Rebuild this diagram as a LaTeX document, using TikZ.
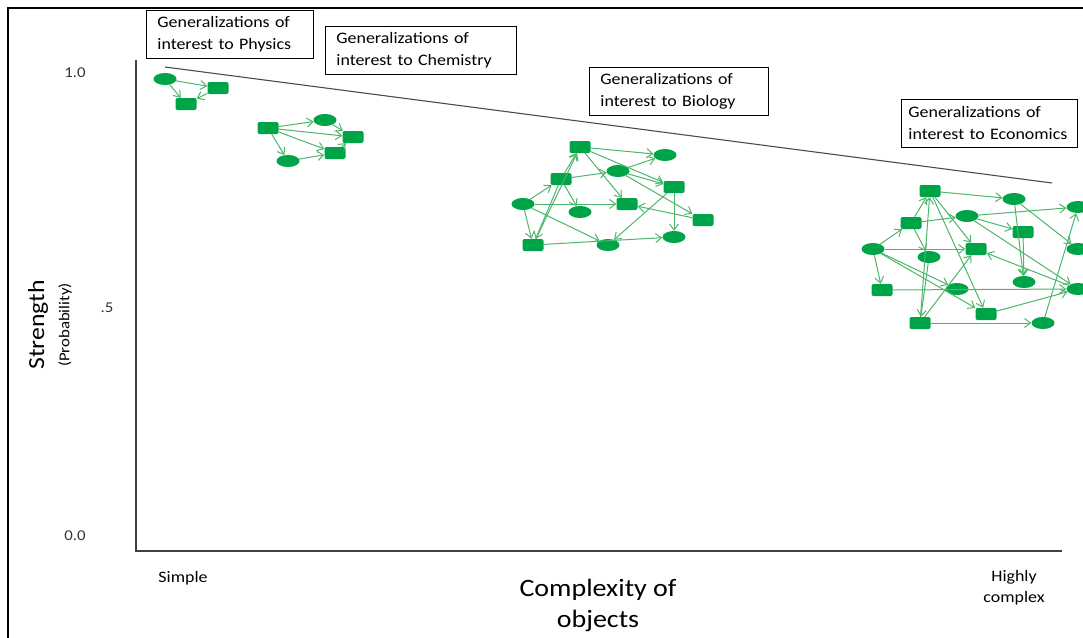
\documentclass[tikz,border=0pt]{standalone}
\usepackage{fontspec}
\setmainfont{Carlito}[FakeStretch=1.12]
\usetikzlibrary{arrows.meta,shapes.geometric}

\definecolor{nodegreen}{RGB}{0,164,72}
\definecolor{edgegreen}{RGB}{76,182,106}

\tikzset{
  oval/.style={ellipse, fill=nodegreen, minimum width=23pt, minimum height=12pt, inner sep=0pt},
  block/.style={rectangle, rounded corners=2pt, fill=nodegreen, minimum width=21pt, minimum height=12pt, inner sep=0pt},
  link/.style={draw=edgegreen, line width=1pt, -{Straight Barb[length=6pt,width=9pt]}},
  genbox/.style={draw, line width=0.8pt, fill=white, anchor=north west, align=left,
    text width=#1, inner xsep=11pt, minimum height=48pt, font=\fontsize{16}{22}\selectfont},
  tick/.style={font=\fontsize{15}{17}\selectfont, text=black!80},
}

\begin{document}
\begin{tikzpicture}[x=1pt,y=-1pt]
        \clip (0,0) rectangle (1083,637);
        % Frame
        \draw[line width=1.5pt] (8,640) -- (8,8) -- (1090,8);

        % Axes
        \coordinate (ytop) at (136,60);
        \coordinate (origin) at (136,551);
        \coordinate (xend) at (1062,551);
        \draw[line width=1.1pt, black!75] (ytop) -- (origin) -- (xend);
        \node[tick] (t10) at (75,73) {1.0};
        \node[tick] (t05) at (107,308) {.5};
        \node[tick] (t00) at (75,536) {0.0};
        \node[rotate=90, font=\fontsize{23}{26}\selectfont] (ylab) at (38,325) {Strength};
        \node[rotate=90, font=\fontsize{15}{17}\selectfont] (ysub) at (65,325) {(Probability)};
        \node[font=\fontsize{16}{18}\selectfont] (simple) at (183,578) {Simple};
        \node[font=\fontsize{16}{21}\selectfont, align=center] (highly) at (1014,588) {Highly\\complex};
        \node[font=\fontsize{25}{31}\selectfont, align=center] (xlab) at (598,605) {Complexity of\\objects};

        % Trend
        \coordinate (trendA) at (165,67);
        \coordinate (trendB) at (1052,183);
        \draw[line width=1.1pt, black!70] (trendA) -- (trendB);

        % Physics
        \node[oval] (p1) at (165,79) {};
        \node[block] (p2) at (218,88) {};
        \node[block] (p3) at (186,104) {};
        \path[link] (p1) edge (p2) edge (p3) (p2) edge (p3);

        % Chemistry
        \node[block] (c1) at (268,128) {};
        \node[oval] (c2) at (325,120) {};
        \node[block] (c3) at (353,137) {};
        \node[block] (c4) at (335,153) {};
        \node[oval] (c5) at (288,161) {};
        \path[link] (c1) edge (c2) edge (c3) edge (c4) edge (c5)
          (c2) edge (c3) (c5) edge (c4) (c4) edge (c3);

        % Biology
        \node[block] (b1) at (580,147) {};
        \node[oval] (b2) at (665,155) {};
        \node[oval] (b3) at (618,171) {};
        \node[block] (b4) at (561,179) {};
        \node[block] (b5) at (674,187) {};
        \node[oval] (b6) at (523,204) {};
        \node[oval] (b7) at (580,212) {};
        \node[block] (b8) at (627,204) {};
        \node[block] (b9) at (703,220) {};
        \node[oval] (b10) at (674,237) {};
        \node[block] (b11) at (533,245) {};
        \node[oval] (b12) at (608,245) {};
        \path[link] (b1) edge (b2) edge (b8) edge (b5)
          (b4) edge (b1) (b11) edge (b1)
          (b6) edge (b4) edge (b8) edge (b12) edge (b11)
          (b4) edge (b7) edge (b3) edge (b11)
          (b3) edge (b2) edge (b5) edge (b9)
          (b5) edge (b12) edge (b10)
          (b9) edge (b8) (b11) edge (b10);

        % Economics
        \node[block] (e1) at (930,191) {};
        \node[oval] (e2) at (1014,199) {};
        \node[oval] (e3) at (967,216) {};
        \node[block] (e4) at (911,223) {};
        \node[block] (e5) at (1023,232) {};
        \node[oval] (e6) at (1078,207) {};
        \node[oval] (e7) at (873,249) {};
        \node[oval] (e8) at (929,257) {};
        \node[block] (e9) at (976,249) {};
        \node[oval] (e10) at (1078,249) {};
        \node[oval] (e11) at (1024,282) {};
        \node[block] (e12) at (882,290) {};
        \node[oval] (e13) at (957,289) {};
        \node[oval] (e14) at (1078,289) {};
        \node[block] (e15) at (986,314) {};
        \node[block] (e16) at (920,323) {};
        \node[oval] (e17) at (1043,323) {};
        \path[link] (e1) edge (e2) edge (e9) edge (e15)
          (e4) edge (e1) edge (e8) edge (e3)
          (e7) edge (e4) edge (e9) edge (e12) edge (e15) edge (e13)
          (e3) edge (e6) edge (e5) edge (e14)
          (e2) edge (e10) edge (e11) (e5) edge (e11)
          (e16) edge (e1) edge (e9) edge (e17)
          (e8) edge (e16) (e12) edge (e14) (e15) edge (e14)
          (e17) edge (e6) (e14) edge (e9);

        % Labels
        \node[genbox=145pt] (phys) at (146,10) {Generalizations of\\interest to Physics};
        \node[genbox=169pt] (chem) at (325,26) {Generalizations of\\interest to Chemistry};
        \node[genbox=157pt] (bio) at (589,67) {Generalizations of\\interest to Biology};
        \node[genbox=162pt, inner xsep=7pt] (econ) at (901,99) {Generalizations of\\interest to Economics};
\end{tikzpicture}
\end{document}
